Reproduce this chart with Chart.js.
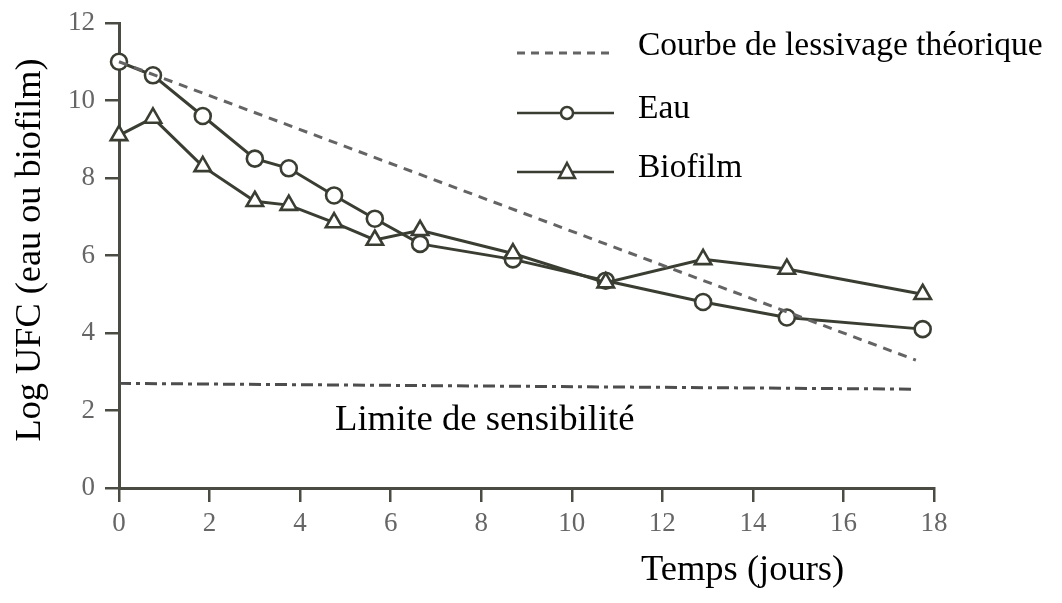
<!DOCTYPE html>
<html lang="fr">
<head>
<meta charset="utf-8">
<title>Lessivage : eau et biofilm</title>
<script src="https://cdn.jsdelivr.net/npm/chart.js@4.4.1/dist/chart.umd.min.js"></script>
<style>
  html, body { margin: 0; padding: 0; background: #fff; }
  #wrap { width: 1062px; height: 603px; }
</style>
</head>
<body>
<div id="wrap"><canvas id="lessivageChart" width="1062" height="603"></canvas></div>
<script>
// Données
const joursMesures = [0, 0.75, 1.85, 3.0, 3.75, 4.75, 5.65, 6.65, 8.7, 10.75, 12.9, 14.75, 17.75];
const logEau = [11.0, 10.65, 9.6, 8.5, 8.25, 7.55, 6.95, 6.3, 5.9, 5.35, 4.8, 4.4, 4.1];
const logBiofilm = [9.1, 9.55, 8.3, 7.4, 7.3, 6.85, 6.4, 6.65, 6.05, 5.3, 5.9, 5.65, 5.0];

const joursTheorique = [0, 17.6];
const logTheorique = [11.0, 3.3];

const joursLimite = [0, 17.6];
const logLimite = [2.7, 2.55];

const xTicks = [0, 2, 4, 6, 8, 10, 12, 14, 16, 18];
const yTicks = [0, 2, 4, 6, 8, 10, 12];

const libelles = ['Courbe de lessivage théorique', 'Eau', 'Biofilm'];

const couleurTrait = '#3a3e32';
const couleurAxe = '#4a4b42';
const couleurTirets = '#646464';
const serif = '"Liberation Serif", "Times New Roman", serif';

const points = (xs, ys) => xs.map((x, i) => ({ x: x, y: ys[i] }));

// Légende et textes dessinés sur le canvas
const textesPlugin = {
    id: 'textes',
    afterDraw(chart) {
        const ctx = chart.ctx;
        ctx.save();
        ctx.fillStyle = '#000';
        ctx.textAlign = 'left';
        ctx.textBaseline = 'alphabetic';

        // légende
        const x0 = 517, x1 = 614, xm = 567;
        ctx.font = '33.5px ' + serif;
        ctx.strokeStyle = couleurTirets;
        ctx.lineWidth = 3;
        ctx.setLineDash([8, 6]);
        ctx.beginPath(); ctx.moveTo(x0, 53); ctx.lineTo(x1, 53); ctx.stroke();
        ctx.setLineDash([]);
        ctx.fillText(libelles[0], 638, 55);

        ctx.strokeStyle = couleurTrait;
        ctx.lineWidth = 2.5;
        ctx.beginPath(); ctx.moveTo(x0, 113); ctx.lineTo(x1, 113); ctx.stroke();
        ctx.fillStyle = '#fff';
        ctx.beginPath(); ctx.arc(xm, 113, 6, 0, Math.PI * 2); ctx.fill(); ctx.stroke();
        ctx.fillStyle = '#000';
        ctx.fillText(libelles[1], 638, 118);

        ctx.beginPath(); ctx.moveTo(x0, 172); ctx.lineTo(x1, 172); ctx.stroke();
        ctx.fillStyle = '#fff';
        ctx.beginPath();
        ctx.moveTo(xm, 163); ctx.lineTo(xm + 8, 178); ctx.lineTo(xm - 8, 178); ctx.closePath();
        ctx.fill(); ctx.stroke();
        ctx.fillStyle = '#000';
        ctx.fillText(libelles[2], 638, 177);

        // limite de sensibilité
        ctx.font = '36.7px ' + serif;
        ctx.fillText('Limite de sensibilité', 335, 430);

        // titre axe x
        ctx.font = '36.5px ' + serif;
        ctx.fillText('Temps (jours)', 641, 580);

        // titre axe y
        ctx.translate(40, 250);
        ctx.rotate(-Math.PI / 2);
        ctx.textAlign = 'center';
        ctx.font = '36.3px ' + serif;
        ctx.fillText('Log UFC (eau ou biofilm)', 0, 0);
        ctx.restore();
    }
};

window.onload = () => {
    new Chart(document.getElementById('lessivageChart'), {
        type: 'scatter',
        data: {
            datasets: [
                {
                    label: libelles[0],
                    data: points(joursTheorique, logTheorique),
                    showLine: true,
                    borderColor: couleurTirets,
                    borderWidth: 3,
                    borderDash: [9, 7],
                    pointRadius: 0,
                    clip: false
                },
                {
                    label: 'Limite de sensibilité',
                    data: points(joursLimite, logLimite),
                    showLine: true,
                    borderColor: '#4d4d4d',
                    borderWidth: 3,
                    borderDash: [12, 5, 4, 5],
                    pointRadius: 0,
                    clip: false
                },
                {
                    label: libelles[2],
                    data: points(joursMesures, logBiofilm),
                    showLine: true,
                    borderColor: couleurTrait,
                    borderWidth: 3,
                    pointStyle: 'triangle',
                    pointRadius: 9.5,
                    pointBorderWidth: 2.6,
                    pointBackgroundColor: '#fff',
                    pointBorderColor: couleurTrait,
                    clip: false
                },
                {
                    label: libelles[1],
                    data: points(joursMesures, logEau),
                    showLine: true,
                    borderColor: couleurTrait,
                    borderWidth: 3,
                    pointStyle: 'circle',
                    pointRadius: 8,
                    pointBorderWidth: 2.6,
                    pointBackgroundColor: '#fff',
                    pointBorderColor: couleurTrait,
                    clip: false
                }
            ]
        },
        options: {
            responsive: false,
            animation: false,
            layout: { padding: { left: 0, right: 128, top: 23, bottom: 0 } },
            plugins: {
                legend: { display: false },
                tooltip: { enabled: false }
            },
            scales: {
                x: {
                    type: 'linear',
                    min: 0,
                    max: 18,
                    afterFit(s) { s.height = 115; s.paddingLeft = 0; s.paddingRight = 0; },
                    afterBuildTicks(s) { s.ticks = xTicks.map(v => ({ value: v })); },
                    border: { color: couleurAxe, width: 3 },
                    grid: { drawOnChartArea: false, color: couleurAxe, lineWidth: 2.5, tickLength: 14 },
                    ticks: { color: '#666', padding: 6, font: { family: serif, size: 27 } }
                },
                y: {
                    type: 'linear',
                    min: 0,
                    max: 12,
                    afterFit(s) { s.width = 119; s.paddingTop = 0; s.paddingBottom = 0; },
                    afterBuildTicks(s) { s.ticks = yTicks.map(v => ({ value: v })); },
                    border: { color: couleurAxe, width: 3 },
                    grid: { drawOnChartArea: false, color: couleurAxe, lineWidth: 2.5, tickLength: 14 },
                    ticks: { color: '#666', padding: 10, font: { family: serif, size: 27 } }
                }
            }
        },
        plugins: [textesPlugin]
    });
};
</script>
</body>
</html>
